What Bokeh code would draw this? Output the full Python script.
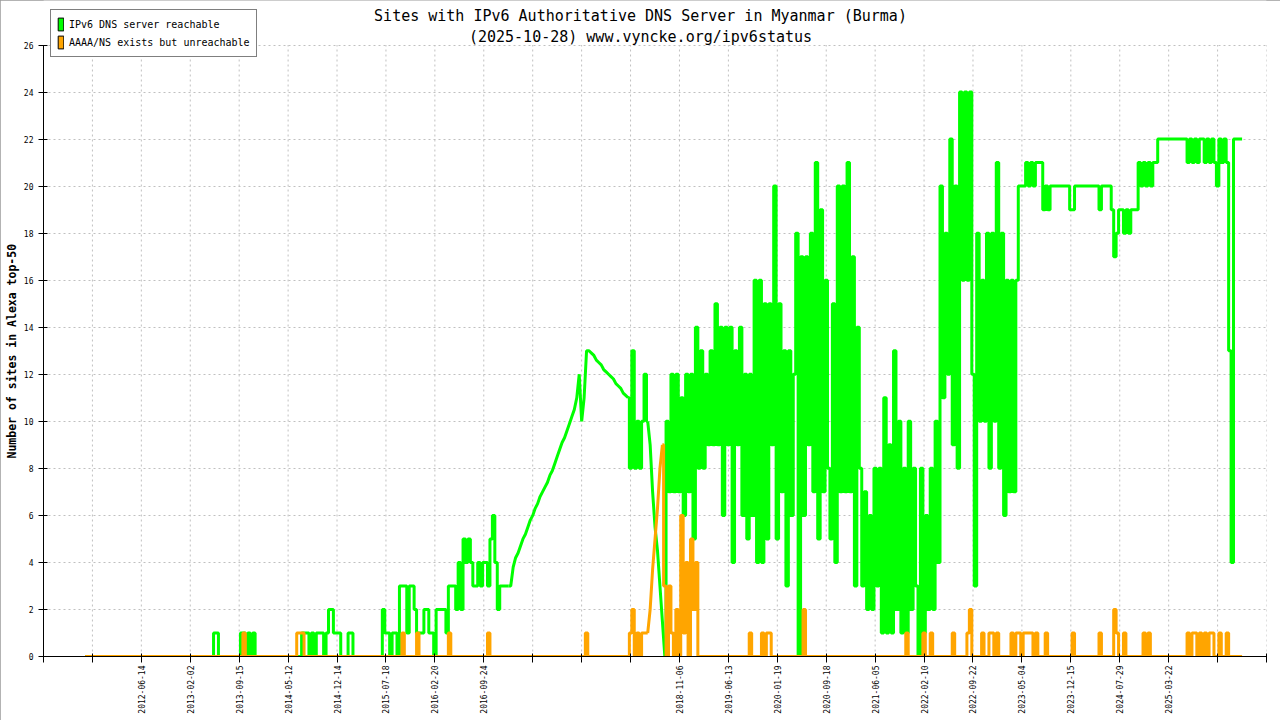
import numpy as np
from math import pi
from bokeh.plotting import figure
from bokeh.models import (FixedTicker, SingleIntervalTicker, Legend, LegendItem, Label,
                          ColumnDataSource, Title)
from bokeh.embed import file_html
from bokeh.resources import INLINE

TITLE_1 = "Sites with IPv6 Authoritative DNS Server in Myanmar (Burma)"
TITLE_2 = "(2025-10-28) www.vyncke.org/ipv6status"
Y_TITLE = "Number of sites in Alexa top-50"
SERIES_NAMES = ["IPv6 DNS server reachable", "AAAA/NS exists but unreachable"]

# x axis: one unit per labelled tick period
tick_labels = ["", "", "2012-06-14", "2013-02-02", "2013-09-15", "2014-05-12",
               "2014-12-14", "2015-07-18", "2016-02-20", "2016-09-24", "", "", "",
               "2018-11-06", "2019-06-13", "2020-01-19", "2020-09-18", "2021-06-05",
               "2022-02-10", "2022-09-22", "2023-05-04", "2023-12-15", "2024-07-29",
               "2025-03-22", "", ""]
y_max_tick = 26

# samples, evenly spaced along the x axis
sample_start = 0.851
sample_step = 0.05
# sample spans drawn as straight sloped lines (elsewhere the series are drawn as steps)
green_line_spans = [(173, 222), (230, 237)]
orange_line_spans = [(230, 236)]

reachable = [
    0, 0, 0, 0, 0, 0, 0, 0, 0, 0,
    0, 0, 0, 0, 0, 0, 0, 0, 0, 0,
    0, 0, 0, 0, 0, 0, 0, 0, 0, 0,
    0, 0, 0, 0, 0, 0, 0, 0, 0, 0,
    0, 0, 0, 0, 0, 0, 0, 0, 0, 0,
    0, 0, 0, 1, 1, 0, 0, 0, 0, 0,
    0, 0, 0, 0, 1, 1, 0, 1, 0, 1,
    0, 0, 0, 0, 0, 0, 0, 0, 0, 0,
    0, 0, 0, 0, 0, 0, 0, 0, 0, 1,
    1, 1, 0, 1, 0, 1, 1, 1, 0, 1,
    2, 2, 1, 1, 1, 0, 0, 0, 1, 1,
    0, 0, 0, 0, 0, 0, 0, 0, 0, 0,
    0, 0, 2, 1, 1, 0, 1, 1, 0, 3,
    3, 3, 1, 3, 3, 2, 1, 1, 1, 2,
    2, 1, 1, 0, 2, 2, 2, 2, 1, 3,
    3, 3, 2, 4, 2, 5, 4, 5, 4, 3,
    3, 4, 3, 4, 4, 3, 5, 6, 4, 2,
    3, 3, 3, 3, 3, 3.8, 4.2, 4.4, 4.7, 5.0,
    5.2, 5.5, 5.8, 6.0, 6.3, 6.5, 6.8, 7.0, 7.2, 7.4,
    7.7, 7.9, 8.2, 8.5, 8.8, 9.1, 9.3, 9.6, 9.9, 10.2,
    10.5, 11, 12, 10, 11, 13, 13, 12.9, 12.8, 12.6,
    12.5, 12.4, 12.2, 12.1, 12.0, 11.9, 11.8, 11.6, 11.5, 11.4,
    11.2, 11.1, 11, 8, 13, 8, 10, 8, 10, 12,
    10, 9, 7, 5.5, 4.5, 3, 1.5, 0, 10, 7,
    12, 7, 12, 7, 11, 6, 12, 7, 12, 5,
    14, 8, 13, 8, 12, 9, 13, 9, 15, 9,
    14, 6, 14, 9, 14, 4, 13, 9, 14, 6,
    12, 5, 12, 6, 16, 4, 16, 4, 15, 5,
    15, 9, 20, 5, 15, 7, 13, 3, 13, 6,
    12, 18, 0, 17, 6, 17, 9, 18, 7, 21,
    5, 19, 7, 16, 8, 5, 15, 4, 20, 7,
    20, 7, 21, 7, 17, 3, 14, 8, 3, 7,
    2, 6, 2, 8, 3, 8, 1, 11, 1, 9,
    1, 13, 2, 10, 1, 8, 1, 10, 2, 8,
    3, 0, 8, 1, 6, 2, 8, 2, 10, 4,
    20, 11, 18, 12, 22, 9, 20, 8, 24, 16,
    24, 16, 24, 12, 3, 18, 10, 16, 10, 18,
    8, 18, 10, 21, 8, 18, 6, 16, 7, 16,
    7, 16, 20, 20, 20, 21, 20, 21, 20, 21,
    21, 21, 19, 20, 19, 20, 20, 20, 20, 20,
    20, 20, 20, 19, 19, 20, 20, 20, 20, 20,
    20, 20, 20, 20, 20, 19, 20, 20, 20, 20,
    19, 17, 18, 19, 19, 18, 19, 18, 19, 19,
    19, 21, 20, 21, 20, 21, 20, 21, 21, 22,
    22, 22, 22, 22, 22, 22, 22, 22, 22, 22,
    22, 21, 22, 21, 22, 21, 22, 22, 21, 22,
    21, 22, 21, 20, 22, 21, 22, 21, 13, 4,
    22, 22, 22, 22,
]

# non-zero samples of the "unreachable" series (all other samples are 0)
unreachable_idx = [65, 87, 88, 89, 130, 136, 149, 165, 205,
                   223, 224, 226, 228, 229, 230, 231, 232, 233, 234, 235, 236,
                   237, 239, 240, 242, 244, 245, 246, 248, 249, 250,
                   272, 277, 279, 280, 294, 336, 343, 346, 355, 361, 362, 367,
                   370, 371, 373, 379, 381, 382, 384, 385, 386, 387, 389, 393,
                   404, 415, 421, 422, 425, 433, 435,
                   451, 453, 454, 456, 458, 460, 461, 464, 467]
unreachable_val = [1, 1, 1, 1, 1, 1, 1, 1, 1,
                   1, 2, 1, 1, 1, 1, 2, 3.7, 5, 6.3, 8, 9,
                   3, 3, 1, 2, 6, 1, 4, 5, 2, 4,
                   1, 1, 1, 1, 2, 1, 1, 1, 1, 1, 2, 1,
                   1, 1, 1, 1, 1, 1, 1, 1, 1, 1, 1, 1,
                   1, 1, 2, 1, 1, 1, 1,
                   1, 1, 1, 1, 1, 1, 1, 1, 1]

GREEN = "#00ff00"
ORANGE = "#ffa500"
GRID = "#c0c0c0"
FONT = "DejaVu Sans Mono"

n = len(reachable)
period = sample_start + sample_step * np.arange(n)
green = np.array(reachable, dtype=float)
unreachable = np.zeros(n)
unreachable[unreachable_idx] = unreachable_val


def pieces(line_spans, count):
    """Split 0..count-1 into ('step'|'line', first, last) pieces that share end samples."""
    out, cur = [], 0
    for a, b in line_spans:
        if a > cur:
            out.append(("step", cur, a))
        out.append(("line", a, b))
        cur = b
    if cur < count - 1:
        out.append(("step", cur, count - 1))
    return out


W, H = 1280, 720
B_LEFT, B_RIGHT, B_TOP, B_BOTTOM = 43, 14, 0, 64
frame_h = H - B_TOP - B_BOTTOM
px_per_unit = 611.5 / y_max_tick
x_end = len(tick_labels) - 1

p = figure(width=W, height=H, x_range=(0, x_end), y_range=(0, frame_h / px_per_unit),
           min_border_left=B_LEFT, min_border_right=B_RIGHT, min_border_top=B_TOP,
           min_border_bottom=B_BOTTOM, toolbar_location=None, output_backend="svg")
p.outline_line_color = None
p.background_fill_color = "white"
p.border_fill_color = "white"
p.styles = {"outline": "1px solid #9a9a9a", "outline-offset": "-1px"}

# vertical dashed grid lines, stopping at the top tick
grid_x = list(range(1, x_end + 1))
p.segment(x0=grid_x, x1=grid_x, y0=[0] * len(grid_x), y1=[y_max_tick] * len(grid_x),
          line_color=GRID, line_dash="2 3", line_width=1)
p.xgrid.grid_line_color = None

for values, spans, color in ((green, green_line_spans, GREEN),
                             (unreachable, orange_line_spans, ORANGE)):
    for kind, a, b in pieces(spans, n):
        s = ColumnDataSource(dict(x=period[a:b + 1], y=values[a:b + 1]))
        if kind == "step":
            p.step("x", "y", source=s, mode="center", color=color, line_width=3)
        else:
            p.line("x", "y", source=s, color=color, line_width=3)

# axes
p.xaxis.ticker = FixedTicker(ticks=list(range(len(tick_labels))))
p.xaxis.major_label_overrides = {i: lab for i, lab in enumerate(tick_labels)}
p.xaxis.major_label_orientation = pi / 2
p.xaxis.major_tick_out = 6
p.xaxis.major_tick_in = 3
p.xaxis.minor_tick_line_color = None
p.xaxis.major_label_standoff = 3
p.xaxis.major_label_text_font = FONT
p.xaxis.major_label_text_font_size = "8px"
p.xaxis.major_label_text_color = "black"
p.xaxis.axis_line_color = "black"

p.yaxis.ticker = SingleIntervalTicker(interval=2)
p.yaxis.bounds = (0, y_max_tick)
p.yaxis.major_tick_out = 5
p.yaxis.major_tick_in = 4
p.yaxis.minor_tick_line_color = None
p.yaxis.major_label_standoff = 5
p.yaxis.major_label_text_font = FONT
p.yaxis.major_label_text_font_size = "8px"
p.yaxis.major_label_text_color = "black"
p.yaxis.axis_line_color = "black"

# y axis title placed beside the axis, aligned along the 0..26 part of it
p.add_layout(Title(text=Y_TITLE, align="left", offset=198, standoff=3,
                   text_font=FONT, text_font_size="11.5px", text_font_style="bold",
                   text_color="black"), "left")

p.ygrid.ticker = SingleIntervalTicker(interval=2)
p.ygrid.grid_line_color = GRID
p.ygrid.grid_line_dash = "2 3"
p.ygrid.grid_line_width = 1

# titles (screen units relative to the plot frame's bottom-left)
p.add_layout(Label(x=597, y=641, x_units="screen", y_units="screen", text=TITLE_1,
                   text_align="center", text_baseline="middle", text_font=FONT,
                   text_font_size="15px", text_color="black"))
p.add_layout(Label(x=597, y=620, x_units="screen", y_units="screen", text=TITLE_2,
                   text_align="center", text_baseline="middle", text_font=FONT,
                   text_font_size="15px", text_color="black"))

# legend with filled swatches (swatch renderers hold no visible data)
nan = [float("nan")]
sw_g = p.quad(left=nan, right=nan, top=nan, bottom=nan, fill_color=GREEN, line_color="black")
sw_o = p.quad(left=nan, right=nan, top=nan, bottom=nan, fill_color=ORANGE, line_color="black")
legend = Legend(items=[LegendItem(label=SERIES_NAMES[0], renderers=[sw_g]),
                       LegendItem(label=SERIES_NAMES[1], renderers=[sw_o])],
                location=(7, 599), orientation="vertical")
legend.border_line_color = "black"
legend.border_line_width = 1
legend.background_fill_color = "white"
legend.background_fill_alpha = 1
legend.padding = 6
legend.spacing = 2
legend.margin = 0
legend.label_standoff = 5
legend.glyph_width = 7
legend.glyph_height = 16
legend.label_height = 16
legend.label_text_font = FONT
legend.label_text_font_size = "10px"
legend.label_text_color = "black"
p.add_layout(legend)

open("out.html", "w").write(file_html(p, INLINE))
